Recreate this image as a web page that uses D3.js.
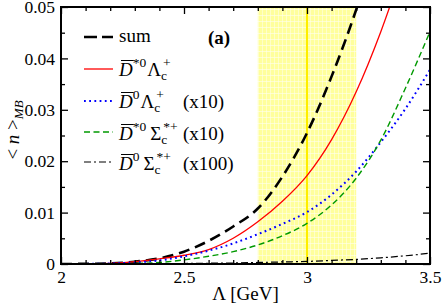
<!DOCTYPE html>
<html><head><meta charset="utf-8">
<script src="https://cdn.jsdelivr.net/npm/d3@7"></script>
<style>body{margin:0;background:#fff}svg{display:block}
svg text{font-family:"Liberation Serif","Times New Roman",Times,"DejaVu Serif",serif !important}</style>
</head><body>
<svg id="c" width="442" height="307"></svg>
<script>
// ---- data ----
const lambda   = [2.0, 2.1, 2.2, 2.3, 2.4, 2.5, 2.6, 2.7, 2.8, 2.9, 3.0, 3.1, 3.2, 3.3, 3.4, 3.5];
const sumVals  = [0, 0.00003, 0.00012, 0.00045, 0.0011, 0.0024, 0.0045, 0.0073, 0.0108, 0.0170, 0.0255, 0.0365, 0.0495, 0.065, null, null];
const dStarLc  = [0, 0.00003, 0.0001, 0.00045, 0.0010, 0.0017, 0.0028, 0.0050, 0.0082, 0.0122, 0.0172, 0.0242, 0.0335, 0.0452, 0.059, null];
const dLc10    = [0, 0.00002, 0.0001, 0.0003, 0.0007, 0.0015, 0.0026, 0.0040, 0.0058, 0.0078, 0.0101, 0.0135, 0.0180, 0.0237, 0.0302, 0.0378];
const dStarSc10= [0, 0.00001, 0.00005, 0.0001, 0.0003, 0.0008, 0.0015, 0.0024, 0.0037, 0.0055, 0.0079, 0.0115, 0.0167, 0.0241, 0.0342, 0.0452];
const dSc100   = [0, 0.00001, 0.00002, 0.00003, 0.00005, 0.0001, 0.00015, 0.0002, 0.0003, 0.0004, 0.0005, 0.0007, 0.0009, 0.0012, 0.0016, 0.0021];
const band     = [2.8, 3.2];
const bandLine = 3.0;
const xMajor   = [2, 2.5, 3, 3.5];
const xMajorLabels = ["2", "2.5", "3", "3.5"];
const yMajor   = [0, 0.01, 0.02, 0.03, 0.04, 0.05];
const yMajorLabels = ["0", "0.01", "0.02", "0.03", "0.04", "0.05"];

const svg = d3.select("#c");
const L = 61, R = 430, T = 7, B = 264;
const x = d3.scaleLinear().domain([2, 3.5]).range([L, R]);
const y = d3.scaleLinear().domain([0, 0.05]).range([B, T]);
const serif = "Liberation Serif, Times New Roman, serif";

svg.append("defs").append("clipPath").attr("id","clip")
  .append("rect").attr("x",L).attr("y",T).attr("width",R-L).attr("height",B-T);

// band
const pat = svg.select("defs").append("pattern").attr("id","bp")
  .attr("patternUnits","userSpaceOnUse").attr("width",4).attr("height",6);
pat.append("rect").attr("width",4).attr("height",6).attr("fill","#ffff9c");
pat.append("rect").attr("x",2).attr("width",1).attr("height",6).attr("fill","#ffffc8");
pat.append("rect").attr("y",3).attr("width",4).attr("height",1).attr("fill","#fffff0").attr("opacity",0.6);
svg.append("rect").attr("x",x(band[0])).attr("y",T).attr("width",x(band[1])-x(band[0])).attr("height",B-T)
  .attr("fill","url(#bp)");
svg.append("line").attr("x1",x(bandLine)).attr("x2",x(bandLine)).attr("y1",T).attr("y2",B)
  .attr("stroke","#ffee00").attr("stroke-width",2);

// curves
const series = [
  {v: sumVals,   color:"#000", w:2.6, dash:"11,6"},
  {v: dStarLc,   color:"#ff0000", w:1.3, dash:null},
  {v: dLc10,     color:"#0000ff", w:2, dash:"1.8,3.4"},
  {v: dStarSc10, color:"#009900", w:1.4, dash:"6,3.5"},
  {v: dSc100,    color:"#000", w:1.2, dash:"7,3,2,3"}
];
const g = svg.append("g").attr("clip-path","url(#clip)");
series.forEach(s => {
  const pts = lambda.map((l,i)=>[l, s.v[i]]).filter(p=>p[1]!==null);
  const line = d3.line().x(d=>x(d[0])).y(d=>y(d[1])).curve(d3.curveMonotoneX);
  g.append("path").attr("d", line(pts)).attr("fill","none")
    .attr("stroke", s.color).attr("stroke-width", s.w)
    .attr("stroke-dasharray", s.dash);
});

// axes
function axisStyle(sel){ sel.attr("font-family",serif); sel.select(".domain").remove();
  sel.selectAll("line").attr("stroke","#000").attr("stroke-width",1.3);
  sel.selectAll("text").attr("font-family",serif).attr("font-size",17.5).attr("fill","#000"); }
const xMinor = d3.range(2, 3.5001, 0.1).filter(v=>!xMajor.some(m=>Math.abs(m-v)<1e-6));
const yMinor = d3.range(0, 0.05001, 0.005).filter(v=>!yMajor.some(m=>Math.abs(m-v)<1e-9));
svg.append("g").attr("transform",`translate(0,${B})`)
  .call(d3.axisBottom(x).tickValues(xMajor).tickFormat((d,i)=>xMajorLabels[i]).tickSize(-7).tickPadding(7)).call(axisStyle);
svg.append("g").attr("transform",`translate(0,${B})`)
  .call(d3.axisBottom(x).tickValues(xMinor).tickFormat("").tickSize(-4)).call(axisStyle);
svg.append("g").attr("transform",`translate(0,${T})`)
  .call(d3.axisTop(x).tickValues(xMajor).tickFormat("").tickSize(-7)).call(axisStyle);
svg.append("g").attr("transform",`translate(0,${T})`)
  .call(d3.axisTop(x).tickValues(xMinor).tickFormat("").tickSize(-4)).call(axisStyle);
svg.append("g").attr("transform",`translate(${L},0)`)
  .call(d3.axisLeft(y).tickValues(yMajor).tickFormat((d,i)=>yMajorLabels[i]).tickSize(-7).tickPadding(6)).call(axisStyle);
svg.append("g").attr("transform",`translate(${L},0)`)
  .call(d3.axisLeft(y).tickValues(yMinor).tickFormat("").tickSize(-4)).call(axisStyle);
svg.append("g").attr("transform",`translate(${R},0)`)
  .call(d3.axisRight(y).tickValues(yMajor).tickFormat("").tickSize(-7)).call(axisStyle);
svg.append("g").attr("transform",`translate(${R},0)`)
  .call(d3.axisRight(y).tickValues(yMinor).tickFormat("").tickSize(-4)).call(axisStyle);
svg.append("rect").attr("x",L).attr("y",T).attr("width",R-L).attr("height",B-T)
  .attr("fill","none").attr("stroke","#000").attr("stroke-width",2);

// axis titles
svg.append("text").attr("x",(L+R)/2).attr("y",300).attr("text-anchor","middle")
  .attr("font-family",serif).attr("font-size",19).text("Λ [GeV]");
const yt = svg.append("text").attr("transform","translate(19,130) rotate(-90)").attr("text-anchor","middle")
  .attr("font-family",serif).attr("font-size",19);
yt.append("tspan").text("< ");
yt.append("tspan").attr("font-style","italic").text("n");
yt.append("tspan").text(" >");
yt.append("tspan").attr("font-style","italic").attr("font-size",13).attr("dy",4).text("MB");

// legend
const FS = 19, SS = 13.5;
function piece(px, by, t, size, italic){
  const el = svg.append("text").attr("x",px).attr("y",by).attr("font-family",serif)
    .attr("font-size",size).attr("font-style",italic?"italic":null).text(t);
  return el.node().getComputedTextLength();
}
function label(x0, by, supD, greek, supG, tail){
  let cx = x0;
  const dw = piece(cx, by, "D", FS, true);
  svg.append("line").attr("x1",cx+2).attr("x2",cx+dw+1).attr("y1",by-15.5).attr("y2",by-15.5)
    .attr("stroke","#000").attr("stroke-width",1);
  cx += dw;
  cx += piece(cx, by-9, supD, SS, false);
  cx += (greek === "Σ") ? 4 : 1;
  cx += piece(cx, by, greek, FS, false);
  piece(cx, by+4, "c", SS, false);
  piece(cx+2, by-9, supG, SS, false);
  if (tail) piece(183, by, tail, FS, false);
}
const legY = [37, 69, 101, 132, 162];
series.forEach((s,i)=>{
  svg.append("line").attr("x1",84).attr("x2",113).attr("y1",legY[i]).attr("y2",legY[i])
    .attr("stroke",s.color).attr("stroke-width",s.w)
    .attr("stroke-dasharray", i===0 ? "13,5" : s.dash);
});
piece(119, legY[0]+5, "sum", FS, false);
label(119, legY[1]+7, "*0", "Λ", "+", null);
label(119, legY[2]+7, "0", "Λ", "+", "(x10)");
label(119, legY[3]+8, "*0", "Σ", "*+", "(x10)");
label(119, legY[4]+8, "0", "Σ", "*+", "(x100)");
svg.append("text").attr("x",208).attr("y",44).attr("font-family",serif).attr("font-weight","bold")
  .attr("font-size",19).text("(a)");
</script>
</body></html>
